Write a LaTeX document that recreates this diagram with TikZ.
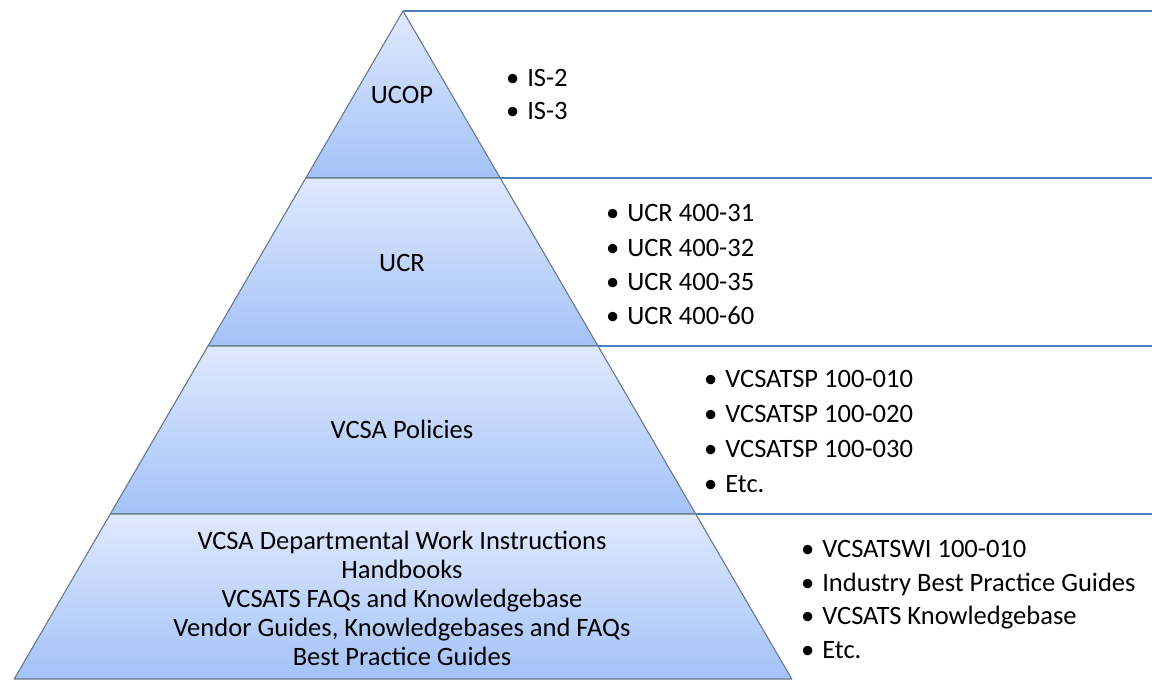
\documentclass[tikz,border=0pt]{standalone}
\usepackage{fontspec}
\setmainfont{Carlito}
\definecolor{tiertop}{HTML}{DFE9FD}
\definecolor{tierbot}{HTML}{A4C2F8}
\definecolor{tieredge}{HTML}{66768A}
\definecolor{rule}{HTML}{4F81BD}
\tikzset{
  tier/.style={top color=tiertop, bottom color=tierbot, draw=tieredge, line width=0.8pt, line join=round},
  divider/.style={draw=rule, line width=1.9pt},
  lbl/.style={font=\fontsize{19.9}{24}\selectfont, inner sep=0pt, text=black},
  item/.style={lbl, anchor=base west, execute at begin node={\llap{•\kern 6pt}}},
}
\begin{document}
\begin{tikzpicture}[x=0.75pt, y=-0.75pt]
\useasboundingbox (0,0) rectangle (1152,679);

% pyramid corners, one pair per level
\coordinate (apex) at (403,11);
\coordinate (l1) at (305.8,178); \coordinate (r1) at (500.2,178);
\coordinate (l2) at (208.0,346); \coordinate (r2) at (598.0,346);
\coordinate (l3) at (110.3,514); \coordinate (r3) at (695.7,514);
\coordinate (l4) at (14.2,679);  \coordinate (r4) at (791.8,679);

% right-hand ends of the dividers
\coordinate (e0) at (1152,11);
\coordinate (e1) at (1152,178);
\coordinate (e2) at (1152,346);
\coordinate (e3) at (1152,514);

% tiers
\path[tier] (apex) -- (r1) -- (l1) -- cycle;
\path[tier] (l1) -- (r1) -- (r2) -- (l2) -- cycle;
\path[tier] (l2) -- (r2) -- (r3) -- (l3) -- cycle;
\path[tier] (l3) -- (r3) -- (r4) -- (l4) -- cycle;

% dividers to the right of the pyramid
\draw[divider] (apex) -- (e0);
\draw[divider] (r1) -- (e1);
\draw[divider] (r2) -- (e2);
\draw[divider] (r3) -- (e3);

% tier titles
\node[lbl, anchor=base] (ucop) at (402,103) {UCOP};
\node[lbl, anchor=base] (ucr) at (402,271) {UCR};
\node[lbl, anchor=base] (vcsa) at (402,438) {VCSA Policies};
\node[lbl, anchor=base] (dwi1) at (402,549) {VCSA Departmental Work Instructions};
\node[lbl, anchor=base] (dwi2) at (402,578) {Handbooks};
\node[lbl, anchor=base] (dwi3) at (402,607) {VCSATS FAQs and Knowledgebase};
\node[lbl, anchor=base] (dwi4) at (402,636) {Vendor Guides, Knowledgebases and FAQs};
\node[lbl, anchor=base] (dwi5) at (402,665) {Best Practice Guides};

% UCOP items
\node[item] (is2) at (527,86) {IS-2};
\node[item] (is3) at (527,119) {IS-3};

% UCR items
\node[item] (ucr31) at (627,221) {UCR 400-31};
\node[item] (ucr32) at (627,256) {UCR 400-32};
\node[item] (ucr35) at (627,290) {UCR 400-35};
\node[item] (ucr60) at (627,324) {UCR 400-60};

% VCSA policy items
\node[item] (sp10) at (725,387) {VCSATSP 100-010};
\node[item] (sp20) at (725,422) {VCSATSP 100-020};
\node[item] (sp30) at (725,457) {VCSATSP 100-030};
\node[item] (spetc) at (725,492) {Etc.};

% work instruction items
\node[item] (wi10) at (822,557) {VCSATSWI 100-010};
\node[item] (wibp) at (822,591) {Industry Best Practice Guides};
\node[item] (wikb) at (822,624) {VCSATS Knowledgebase};
\node[item] (wietc) at (822,658) {Etc.};
\end{tikzpicture}
\end{document}
